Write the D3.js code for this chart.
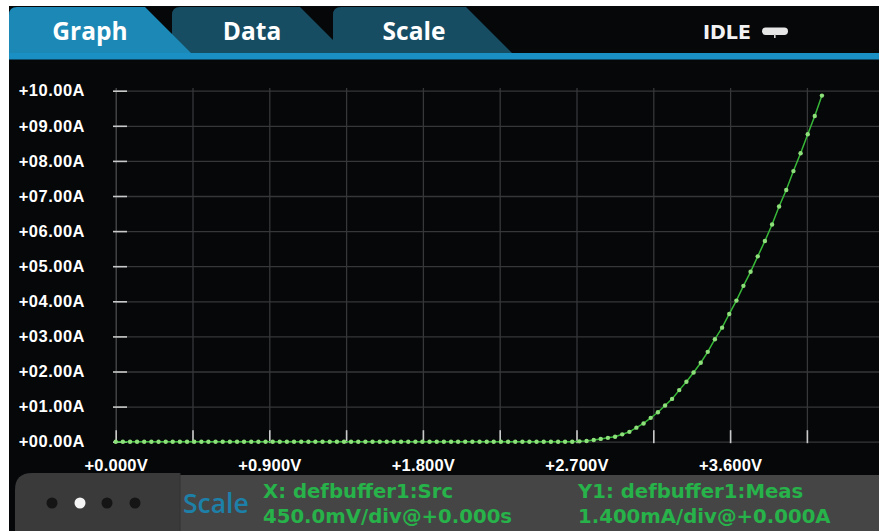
<!DOCTYPE html>
<html>
<head>
<meta charset="utf-8">
<script src="https://cdn.jsdelivr.net/npm/d3@7"></script>
<style>
  html, body { margin: 0; padding: 0; background: #ffffff; overflow: hidden; }
  svg { display: block; }
</style>
</head>
<body>
<script>
// ---- data ----
const voltages = [
  0.000, 0.042, 0.084, 0.125, 0.167, 0.209, 0.251, 0.293, 0.334, 0.376,
  0.418, 0.460, 0.502, 0.543, 0.585, 0.627, 0.669, 0.711, 0.752, 0.794,
  0.836, 0.878, 0.920, 0.961, 1.003, 1.045, 1.087, 1.129, 1.170, 1.212,
  1.254, 1.296, 1.338, 1.379, 1.421, 1.463, 1.505, 1.547, 1.588, 1.630,
  1.672, 1.714, 1.756, 1.797, 1.839, 1.881, 1.923, 1.965, 2.006, 2.048,
  2.090, 2.132, 2.174, 2.215, 2.257, 2.299, 2.341, 2.383, 2.424, 2.466,
  2.508, 2.550, 2.592, 2.633, 2.675, 2.717, 2.759, 2.801, 2.842, 2.884,
  2.926, 2.968, 3.010, 3.051, 3.093, 3.135, 3.177, 3.219, 3.260, 3.302,
  3.344, 3.386, 3.428, 3.469, 3.511, 3.553, 3.595, 3.637, 3.678, 3.720,
  3.762, 3.804, 3.846, 3.887, 3.929, 3.971, 4.013, 4.055, 4.096, 4.138
];
const currents = [
  0.00, 0.00, 0.00, 0.00, 0.00, 0.00, 0.00, 0.00, 0.00, 0.00,
  0.00, 0.00, 0.00, 0.00, 0.00, 0.00, 0.00, 0.00, 0.00, 0.00,
  0.00, 0.00, 0.00, 0.00, 0.00, 0.00, 0.00, 0.00, 0.00, 0.00,
  0.00, 0.00, 0.00, 0.00, 0.00, 0.00, 0.00, 0.00, 0.00, 0.00,
  0.00, 0.00, 0.00, 0.00, 0.00, 0.00, 0.00, 0.00, 0.00, 0.00,
  0.00, 0.00, 0.00, 0.00, 0.00, 0.00, 0.00, 0.00, 0.00, 0.00,
  0.00, 0.00, 0.00, 0.00, 0.00, 0.01, 0.02, 0.05, 0.08, 0.11,
  0.14, 0.21, 0.28, 0.40, 0.52, 0.68, 0.84, 1.03, 1.22, 1.47,
  1.71, 1.97, 2.25, 2.56, 2.92, 3.25, 3.64, 4.02, 4.44, 4.84,
  5.28, 5.72, 6.19, 6.70, 7.17, 7.71, 8.22, 8.76, 9.28, 9.86
];
const xGridValues = [0, 0.45, 0.9, 1.35, 1.8, 2.25, 2.7, 3.15, 3.6, 4.05];
const xTickValues = [0, 0.9, 1.8, 2.7, 3.6];
const xTickLabels = ["+0.000V", "+0.900V", "+1.800V", "+2.700V", "+3.600V"];
const yTickValues = [0, 1, 2, 3, 4, 5, 6, 7, 8, 9, 10];
const yTickLabels = ["+00.00A", "+01.00A", "+02.00A", "+03.00A", "+04.00A", "+05.00A",
                     "+06.00A", "+07.00A", "+08.00A", "+09.00A", "+10.00A"];
const tabLabels = ["Graph", "Data", "Scale"];
const statusLabel = "IDLE";
const footerScale = "Scale";
const footerX = ["X: defbuffer1:Src", "450.0mV/div@+0.000s"];
const footerY = ["Y1: defbuffer1:Meas", "1.400mA/div@+0.000A"];

// ---- layout ----
const W = 879, H = 531;
const plotLeft = 115.7, plotBottom = 441.7, plotTop = 88, plotRight = 879;
const x = d3.scaleLinear().domain([0, 4.5]).range([plotLeft, plotLeft + 768]);
const y = d3.scaleLinear().domain([0, 10]).range([plotBottom, plotBottom - 351]);

const svg = d3.select("body").append("svg").attr("width", W).attr("height", H);

// screen background
svg.append("rect").attr("x", 9).attr("y", 6).attr("width", W - 9).attr("height", H - 6).attr("fill", "#050709");

// ---- tabs ----
const darkTab = "#164d63", activeTab = "#1b88b5";
const tabs = svg.append("g");
tabs.append("path").attr("fill", darkTab)
  .attr("d", "M172,53 L172,15 Q172,7 180,7 L300,7 L346,53 Z");
tabs.append("path").attr("fill", darkTab)
  .attr("d", "M333,53 L333,15 Q333,7 341,7 L466,7 L512,53 Z");
tabs.append("path").attr("fill", activeTab)
  .attr("d", "M9,53 L9,15 Q9,7 17,7 L145,7 L191,53 Z");
svg.append("rect").attr("x", 9).attr("y", 53).attr("width", W - 9).attr("height", 6.5).attr("fill", "#1a8fc4");

const tabCenters = [90, 252, 414];
tabs.selectAll("text.tab").data(tabLabels).join("text")
  .attr("class", "tab")
  .attr("x", (d, i) => tabCenters[i]).attr("y", 39.5)
  .attr("text-anchor", "middle")
  .attr("font-family", "'Open Sans', sans-serif").attr("font-weight", 700)
  .attr("font-size", 24.5).attr("fill", "#ffffff")
  .text(d => d);

// status
svg.append("text").attr("x", 703).attr("y", 38.5)
  .attr("font-family", "'DejaVu Sans', sans-serif").attr("font-weight", 700)
  .attr("font-size", 19).attr("fill", "#f2f2f2").text(statusLabel);
svg.append("rect").attr("x", 762).attr("y", 27.5).attr("width", 26).attr("height", 7.5)
  .attr("rx", 3.7).attr("fill", "#e6e6e6");
svg.append("rect").attr("x", 774).attr("y", 34).attr("width", 1.6).attr("height", 4).attr("fill", "#cfcfcf");

// ---- grid ----
const gridColor = "#363739";
const vGrid = svg.append("g").attr("transform", `translate(0,${plotBottom})`)
  .call(d3.axisBottom(x).tickValues(xGridValues).tickSize(-(plotBottom - plotTop)).tickFormat(""));
vGrid.select(".domain").remove();
vGrid.selectAll("line").attr("stroke", gridColor).attr("stroke-width", 1.3);
vGrid.selectAll("line").filter(d => d === 0).attr("stroke", "#4a4b4d");

const hGrid = svg.append("g").attr("transform", `translate(${plotLeft},0)`)
  .call(d3.axisLeft(y).tickValues(yTickValues).tickSize(-(plotRight - plotLeft)).tickFormat(""));
hGrid.select(".domain").remove();
hGrid.selectAll("line").attr("stroke", gridColor).attr("stroke-width", 1.3);

// ---- axes ----
const labelFont = "'Liberation Sans', Arial, sans-serif";
const yAxis = svg.append("g").attr("transform", `translate(113,0)`)
  .call(d3.axisLeft(y).tickValues(yTickValues).tickSizeInner(-14).tickSizeOuter(0).tickPadding(28)
    .tickFormat(d => yTickLabels[yTickValues.indexOf(d)]));
yAxis.select(".domain").remove();
yAxis.selectAll("line").attr("stroke", "#c9c9c9").attr("stroke-width", 1.6);
yAxis.selectAll("text").attr("fill", "#ffffff").attr("font-family", labelFont)
  .attr("font-weight", 700).attr("font-size", 16.5).attr("letter-spacing", 0.5)
  .attr("text-anchor", "end");

const xAxis = svg.append("g").attr("transform", `translate(0,${plotBottom + 1.5})`)
  .call(d3.axisBottom(x).tickValues(xGridValues).tickSizeInner(-13).tickSizeOuter(0).tickPadding(16)
    .tickFormat(d => { const k = xTickValues.indexOf(d); return k >= 0 ? xTickLabels[k] : ""; }));
xAxis.select(".domain").remove();
xAxis.selectAll("line").attr("stroke", "#c9c9c9").attr("stroke-width", 1.6);
xAxis.selectAll("text").attr("fill", "#ffffff").attr("font-family", labelFont)
  .attr("font-weight", 700).attr("font-size", 16.5).attr("letter-spacing", 0.2);

// ---- series ----
const pts = voltages.map((v, i) => [v, currents[i]]);
svg.append("path").datum(pts)
  .attr("fill", "none").attr("stroke", "#38b838").attr("stroke-width", 1.5)
  .attr("d", d3.line().x(d => x(d[0])).y(d => y(d[1])));
svg.append("g").selectAll("circle").data(pts).join("circle")
  .attr("cx", d => x(d[0])).attr("cy", d => y(d[1])).attr("r", 2.2)
  .attr("fill", "#8ee07a");

// ---- footer ----
svg.append("rect").attr("x", 180).attr("y", 475).attr("width", W - 180).attr("height", H - 475).attr("fill", "#454545");
svg.append("path").attr("fill", "#3a3a3a")
  .attr("d", "M15,531 L15,490 Q15,473 32,473 L180,473 L180,531 Z");
svg.append("line").attr("x1", 180).attr("x2", 180).attr("y1", 473).attr("y2", 531).attr("stroke", "#333").attr("stroke-width", 1);
const dotXs = [52, 80, 107, 135];
svg.append("g").selectAll("circle").data(dotXs).join("circle")
  .attr("cx", d => d).attr("cy", 503).attr("r", 5.5)
  .attr("fill", (d, i) => i === 1 ? "#f4f4f4" : "#151515");

svg.append("text").attr("x", 183).attr("y", 513)
  .attr("font-family", "'Open Sans', sans-serif").attr("font-weight", 600)
  .attr("font-size", 26.5).attr("fill", "#1d80a8").text(footerScale);

const green = "#27b24a";
[[263, footerX], [578, footerY]].forEach(([fx, lines]) => {
  lines.forEach((t, i) => {
    svg.append("text").attr("x", fx).attr("y", 498 + i * 25)
      .attr("font-family", "'DejaVu Sans', sans-serif").attr("font-weight", 700)
      .attr("font-size", 19.7).attr("fill", green).text(t);
  });
});
</script>
</body>
</html>
